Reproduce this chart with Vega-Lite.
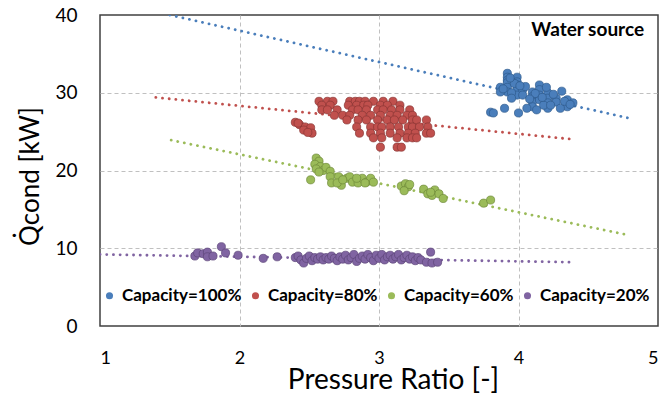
{
  "$schema": "https://vega.github.io/schema/vega-lite/v6.json",
  "width": 558,
  "height": 311,
  "autosize": {"type": "none"},
  "padding": {"left": 100, "top": 15, "right": 6, "bottom": 69},
  "background": "white",
  "config": {
    "font": "Lato",
    "view": {"stroke": "#404040", "strokeWidth": 1.5}
  },
  "datasets": {
    "trend": [
      {"c": "Capacity=100%", "pr": 1.5, "q": 40.0},
      {"c": "Capacity=100%", "pr": 4.8, "q": 26.7},
      {"c": "Capacity=80%", "pr": 1.4, "q": 29.4},
      {"c": "Capacity=80%", "pr": 4.37, "q": 24.05},
      {"c": "Capacity=60%", "pr": 1.51, "q": 23.9},
      {"c": "Capacity=60%", "pr": 4.76, "q": 11.8},
      {"c": "Capacity=20%", "pr": 1.0, "q": 9.2},
      {"c": "Capacity=20%", "pr": 4.4, "q": 8.2}
    ],
    "obs": [
      {"c": "Capacity=100%", "pr": 3.92, "q": 32.5}, {"c": "Capacity=100%", "pr": 3.92, "q": 32.0},
      {"c": "Capacity=100%", "pr": 3.92, "q": 31.6}, {"c": "Capacity=100%", "pr": 3.92, "q": 31.3},
      {"c": "Capacity=100%", "pr": 3.92, "q": 30.7}, {"c": "Capacity=100%", "pr": 3.92, "q": 30.1},
      {"c": "Capacity=100%", "pr": 3.87, "q": 30.7}, {"c": "Capacity=100%", "pr": 3.87, "q": 30.1},
      {"c": "Capacity=100%", "pr": 3.99, "q": 32.0}, {"c": "Capacity=100%", "pr": 3.99, "q": 31.4},
      {"c": "Capacity=100%", "pr": 3.99, "q": 31.0}, {"c": "Capacity=100%", "pr": 3.99, "q": 30.4},
      {"c": "Capacity=100%", "pr": 3.99, "q": 29.7}, {"c": "Capacity=100%", "pr": 3.95, "q": 30.0},
      {"c": "Capacity=100%", "pr": 3.95, "q": 29.3}, {"c": "Capacity=100%", "pr": 4.03, "q": 30.4},
      {"c": "Capacity=100%", "pr": 4.03, "q": 29.7}, {"c": "Capacity=100%", "pr": 4.10, "q": 30.1},
      {"c": "Capacity=100%", "pr": 4.10, "q": 29.5}, {"c": "Capacity=100%", "pr": 4.10, "q": 28.8},
      {"c": "Capacity=100%", "pr": 4.10, "q": 28.2}, {"c": "Capacity=100%", "pr": 4.15, "q": 31.0},
      {"c": "Capacity=100%", "pr": 4.15, "q": 30.4}, {"c": "Capacity=100%", "pr": 4.15, "q": 29.7},
      {"c": "Capacity=100%", "pr": 4.15, "q": 29.1}, {"c": "Capacity=100%", "pr": 4.21, "q": 30.0},
      {"c": "Capacity=100%", "pr": 4.21, "q": 29.3}, {"c": "Capacity=100%", "pr": 4.21, "q": 28.7},
      {"c": "Capacity=100%", "pr": 4.21, "q": 28.0}, {"c": "Capacity=100%", "pr": 4.27, "q": 29.3},
      {"c": "Capacity=100%", "pr": 4.27, "q": 28.8}, {"c": "Capacity=100%", "pr": 4.31, "q": 30.2},
      {"c": "Capacity=100%", "pr": 4.35, "q": 29.1}, {"c": "Capacity=100%", "pr": 4.35, "q": 28.2},
      {"c": "Capacity=100%", "pr": 4.39, "q": 28.7}, {"c": "Capacity=100%", "pr": 4.18, "q": 28.4},
      {"c": "Capacity=100%", "pr": 4.13, "q": 27.8}, {"c": "Capacity=100%", "pr": 4.06, "q": 28.0},
      {"c": "Capacity=100%", "pr": 4.00, "q": 27.4}, {"c": "Capacity=100%", "pr": 3.90, "q": 28.0},
      {"c": "Capacity=100%", "pr": 3.80, "q": 27.5}, {"c": "Capacity=100%", "pr": 3.82, "q": 27.4},
      {"c": "Capacity=100%", "pr": 4.20, "q": 30.7}, {"c": "Capacity=100%", "pr": 4.30, "q": 28.0},
      {"c": "Capacity=100%", "pr": 4.05, "q": 30.8}, {"c": "Capacity=100%", "pr": 4.12, "q": 29.9},
      {"c": "Capacity=100%", "pr": 4.25, "q": 29.8}, {"c": "Capacity=100%", "pr": 4.33, "q": 28.9},
      {"c": "Capacity=100%", "pr": 4.08, "q": 29.2}, {"c": "Capacity=100%", "pr": 3.97, "q": 31.2},
      {"c": "Capacity=100%", "pr": 3.94, "q": 31.9}, {"c": "Capacity=100%", "pr": 3.89, "q": 30.5},
      {"c": "Capacity=100%", "pr": 4.01, "q": 30.9}, {"c": "Capacity=100%", "pr": 4.17, "q": 29.4},
      {"c": "Capacity=100%", "pr": 4.37, "q": 28.5}, {"c": "Capacity=100%", "pr": 4.23, "q": 28.4},

      {"c": "Capacity=80%", "pr": 2.40, "q": 26.2}, {"c": "Capacity=80%", "pr": 2.43, "q": 25.9},
      {"c": "Capacity=80%", "pr": 2.47, "q": 25.6}, {"c": "Capacity=80%", "pr": 2.51, "q": 25.5},
      {"c": "Capacity=80%", "pr": 2.52, "q": 24.8}, {"c": "Capacity=80%", "pr": 2.46, "q": 25.2},
      {"c": "Capacity=80%", "pr": 2.49, "q": 24.9}, {"c": "Capacity=80%", "pr": 2.42, "q": 26.1},
      {"c": "Capacity=80%", "pr": 2.57, "q": 28.9}, {"c": "Capacity=80%", "pr": 2.63, "q": 28.9},
      {"c": "Capacity=80%", "pr": 2.67, "q": 28.9}, {"c": "Capacity=80%", "pr": 2.79, "q": 28.9},
      {"c": "Capacity=80%", "pr": 2.83, "q": 28.9}, {"c": "Capacity=80%", "pr": 2.86, "q": 28.9},
      {"c": "Capacity=80%", "pr": 2.90, "q": 28.9}, {"c": "Capacity=80%", "pr": 2.96, "q": 28.9},
      {"c": "Capacity=80%", "pr": 3.03, "q": 28.9}, {"c": "Capacity=80%", "pr": 3.10, "q": 28.9},
      {"c": "Capacity=80%", "pr": 2.59, "q": 28.4}, {"c": "Capacity=80%", "pr": 2.65, "q": 28.4},
      {"c": "Capacity=80%", "pr": 2.78, "q": 28.4}, {"c": "Capacity=80%", "pr": 2.84, "q": 28.4},
      {"c": "Capacity=80%", "pr": 2.89, "q": 28.4}, {"c": "Capacity=80%", "pr": 2.92, "q": 28.4},
      {"c": "Capacity=80%", "pr": 3.01, "q": 28.4}, {"c": "Capacity=80%", "pr": 3.06, "q": 28.4},
      {"c": "Capacity=80%", "pr": 3.15, "q": 28.4}, {"c": "Capacity=80%", "pr": 2.59, "q": 27.8},
      {"c": "Capacity=80%", "pr": 2.63, "q": 27.8}, {"c": "Capacity=80%", "pr": 2.70, "q": 27.8},
      {"c": "Capacity=80%", "pr": 2.81, "q": 27.8}, {"c": "Capacity=80%", "pr": 2.85, "q": 27.8},
      {"c": "Capacity=80%", "pr": 2.91, "q": 27.8}, {"c": "Capacity=80%", "pr": 2.99, "q": 27.8},
      {"c": "Capacity=80%", "pr": 3.03, "q": 27.8}, {"c": "Capacity=80%", "pr": 3.09, "q": 27.8},
      {"c": "Capacity=80%", "pr": 3.15, "q": 27.8}, {"c": "Capacity=80%", "pr": 3.22, "q": 27.8},
      {"c": "Capacity=80%", "pr": 2.68, "q": 27.1}, {"c": "Capacity=80%", "pr": 2.74, "q": 27.1},
      {"c": "Capacity=80%", "pr": 2.79, "q": 27.1}, {"c": "Capacity=80%", "pr": 2.88, "q": 27.1},
      {"c": "Capacity=80%", "pr": 2.94, "q": 27.1}, {"c": "Capacity=80%", "pr": 3.01, "q": 27.1},
      {"c": "Capacity=80%", "pr": 3.08, "q": 27.1}, {"c": "Capacity=80%", "pr": 3.13, "q": 27.1},
      {"c": "Capacity=80%", "pr": 3.20, "q": 27.1}, {"c": "Capacity=80%", "pr": 3.24, "q": 27.1},
      {"c": "Capacity=80%", "pr": 2.77, "q": 26.5}, {"c": "Capacity=80%", "pr": 2.85, "q": 26.5},
      {"c": "Capacity=80%", "pr": 2.91, "q": 26.5}, {"c": "Capacity=80%", "pr": 2.99, "q": 26.5},
      {"c": "Capacity=80%", "pr": 3.06, "q": 26.5}, {"c": "Capacity=80%", "pr": 3.11, "q": 26.5},
      {"c": "Capacity=80%", "pr": 3.17, "q": 26.5}, {"c": "Capacity=80%", "pr": 3.24, "q": 26.5},
      {"c": "Capacity=80%", "pr": 3.27, "q": 26.5}, {"c": "Capacity=80%", "pr": 3.34, "q": 26.5},
      {"c": "Capacity=80%", "pr": 2.84, "q": 25.6}, {"c": "Capacity=80%", "pr": 2.94, "q": 25.6},
      {"c": "Capacity=80%", "pr": 2.99, "q": 25.6}, {"c": "Capacity=80%", "pr": 3.02, "q": 25.6},
      {"c": "Capacity=80%", "pr": 3.08, "q": 25.6}, {"c": "Capacity=80%", "pr": 3.14, "q": 25.6},
      {"c": "Capacity=80%", "pr": 3.21, "q": 25.6}, {"c": "Capacity=80%", "pr": 3.24, "q": 25.6},
      {"c": "Capacity=80%", "pr": 3.29, "q": 25.6}, {"c": "Capacity=80%", "pr": 3.35, "q": 25.6},
      {"c": "Capacity=80%", "pr": 2.86, "q": 24.8}, {"c": "Capacity=80%", "pr": 2.94, "q": 24.8},
      {"c": "Capacity=80%", "pr": 3.01, "q": 24.8}, {"c": "Capacity=80%", "pr": 3.08, "q": 24.8},
      {"c": "Capacity=80%", "pr": 3.15, "q": 24.8}, {"c": "Capacity=80%", "pr": 3.21, "q": 24.8},
      {"c": "Capacity=80%", "pr": 3.26, "q": 24.8}, {"c": "Capacity=80%", "pr": 3.34, "q": 24.8},
      {"c": "Capacity=80%", "pr": 3.37, "q": 24.8}, {"c": "Capacity=80%", "pr": 2.96, "q": 24.2},
      {"c": "Capacity=80%", "pr": 3.02, "q": 24.2}, {"c": "Capacity=80%", "pr": 3.13, "q": 24.2},
      {"c": "Capacity=80%", "pr": 3.20, "q": 24.2}, {"c": "Capacity=80%", "pr": 3.24, "q": 24.2},
      {"c": "Capacity=80%", "pr": 3.27, "q": 24.2}, {"c": "Capacity=80%", "pr": 3.01, "q": 23.0},
      {"c": "Capacity=80%", "pr": 3.13, "q": 23.0}, {"c": "Capacity=80%", "pr": 3.16, "q": 23.0},

      {"c": "Capacity=60%", "pr": 2.55, "q": 21.6}, {"c": "Capacity=60%", "pr": 2.57, "q": 21.2},
      {"c": "Capacity=60%", "pr": 2.54, "q": 20.8}, {"c": "Capacity=60%", "pr": 2.58, "q": 20.5},
      {"c": "Capacity=60%", "pr": 2.55, "q": 20.2}, {"c": "Capacity=60%", "pr": 2.60, "q": 20.0},
      {"c": "Capacity=60%", "pr": 2.57, "q": 19.8}, {"c": "Capacity=60%", "pr": 2.62, "q": 20.4},
      {"c": "Capacity=60%", "pr": 2.65, "q": 19.9}, {"c": "Capacity=60%", "pr": 2.51, "q": 18.8},
      {"c": "Capacity=60%", "pr": 2.65, "q": 19.2}, {"c": "Capacity=60%", "pr": 2.66, "q": 18.4},
      {"c": "Capacity=60%", "pr": 2.71, "q": 19.2}, {"c": "Capacity=60%", "pr": 2.73, "q": 18.1},
      {"c": "Capacity=60%", "pr": 2.77, "q": 19.0}, {"c": "Capacity=60%", "pr": 2.79, "q": 19.2},
      {"c": "Capacity=60%", "pr": 2.81, "q": 18.5}, {"c": "Capacity=60%", "pr": 2.85, "q": 18.4},
      {"c": "Capacity=60%", "pr": 2.88, "q": 19.0}, {"c": "Capacity=60%", "pr": 2.91, "q": 18.5},
      {"c": "Capacity=60%", "pr": 2.94, "q": 19.0}, {"c": "Capacity=60%", "pr": 2.96, "q": 18.5},
      {"c": "Capacity=60%", "pr": 2.70, "q": 18.4}, {"c": "Capacity=60%", "pr": 2.74, "q": 18.8},
      {"c": "Capacity=60%", "pr": 2.84, "q": 19.0}, {"c": "Capacity=60%", "pr": 2.90, "q": 18.4},
      {"c": "Capacity=60%", "pr": 3.16, "q": 18.0}, {"c": "Capacity=60%", "pr": 3.19, "q": 18.3},
      {"c": "Capacity=60%", "pr": 3.21, "q": 17.9}, {"c": "Capacity=60%", "pr": 3.18, "q": 17.4},
      {"c": "Capacity=60%", "pr": 3.22, "q": 18.2}, {"c": "Capacity=60%", "pr": 3.32, "q": 17.6},
      {"c": "Capacity=60%", "pr": 3.35, "q": 17.0}, {"c": "Capacity=60%", "pr": 3.38, "q": 16.8},
      {"c": "Capacity=60%", "pr": 3.40, "q": 17.5}, {"c": "Capacity=60%", "pr": 3.43, "q": 17.0},
      {"c": "Capacity=60%", "pr": 3.46, "q": 16.4}, {"c": "Capacity=60%", "pr": 3.37, "q": 17.2},
      {"c": "Capacity=60%", "pr": 3.75, "q": 15.8}, {"c": "Capacity=60%", "pr": 3.80, "q": 16.2},

      {"c": "Capacity=20%", "pr": 1.68, "q": 9.0}, {"c": "Capacity=20%", "pr": 1.70, "q": 9.4},
      {"c": "Capacity=20%", "pr": 1.74, "q": 9.3}, {"c": "Capacity=20%", "pr": 1.77, "q": 9.5},
      {"c": "Capacity=20%", "pr": 1.77, "q": 8.9}, {"c": "Capacity=20%", "pr": 1.81, "q": 9.0},
      {"c": "Capacity=20%", "pr": 1.87, "q": 10.2}, {"c": "Capacity=20%", "pr": 1.90, "q": 9.4},
      {"c": "Capacity=20%", "pr": 1.99, "q": 9.1}, {"c": "Capacity=20%", "pr": 2.17, "q": 8.7},
      {"c": "Capacity=20%", "pr": 2.27, "q": 8.9}, {"c": "Capacity=20%", "pr": 2.40, "q": 8.8},
      {"c": "Capacity=20%", "pr": 2.42, "q": 9.0}, {"c": "Capacity=20%", "pr": 2.44, "q": 8.5},
      {"c": "Capacity=20%", "pr": 2.46, "q": 8.1}, {"c": "Capacity=20%", "pr": 2.48, "q": 8.7},
      {"c": "Capacity=20%", "pr": 2.50, "q": 9.0}, {"c": "Capacity=20%", "pr": 2.52, "q": 8.4},
      {"c": "Capacity=20%", "pr": 2.54, "q": 8.8}, {"c": "Capacity=20%", "pr": 2.56, "q": 8.6},
      {"c": "Capacity=20%", "pr": 2.58, "q": 8.9}, {"c": "Capacity=20%", "pr": 2.60, "q": 8.5},
      {"c": "Capacity=20%", "pr": 2.62, "q": 8.8}, {"c": "Capacity=20%", "pr": 2.64, "q": 8.6},
      {"c": "Capacity=20%", "pr": 2.66, "q": 9.0}, {"c": "Capacity=20%", "pr": 2.68, "q": 8.7},
      {"c": "Capacity=20%", "pr": 2.70, "q": 8.4}, {"c": "Capacity=20%", "pr": 2.72, "q": 8.9},
      {"c": "Capacity=20%", "pr": 2.74, "q": 8.6}, {"c": "Capacity=20%", "pr": 2.76, "q": 9.1},
      {"c": "Capacity=20%", "pr": 2.78, "q": 8.5}, {"c": "Capacity=20%", "pr": 2.80, "q": 8.8},
      {"c": "Capacity=20%", "pr": 2.82, "q": 9.2}, {"c": "Capacity=20%", "pr": 2.84, "q": 8.3},
      {"c": "Capacity=20%", "pr": 2.86, "q": 8.7}, {"c": "Capacity=20%", "pr": 2.88, "q": 9.0},
      {"c": "Capacity=20%", "pr": 2.90, "q": 8.6}, {"c": "Capacity=20%", "pr": 2.92, "q": 9.2},
      {"c": "Capacity=20%", "pr": 2.94, "q": 8.8}, {"c": "Capacity=20%", "pr": 2.96, "q": 8.4},
      {"c": "Capacity=20%", "pr": 2.98, "q": 9.1}, {"c": "Capacity=20%", "pr": 3.00, "q": 8.7},
      {"c": "Capacity=20%", "pr": 3.02, "q": 9.2}, {"c": "Capacity=20%", "pr": 3.04, "q": 8.5},
      {"c": "Capacity=20%", "pr": 3.06, "q": 8.9}, {"c": "Capacity=20%", "pr": 3.08, "q": 9.1},
      {"c": "Capacity=20%", "pr": 3.10, "q": 8.6}, {"c": "Capacity=20%", "pr": 3.12, "q": 8.9},
      {"c": "Capacity=20%", "pr": 3.14, "q": 9.2}, {"c": "Capacity=20%", "pr": 3.16, "q": 8.5},
      {"c": "Capacity=20%", "pr": 3.18, "q": 8.8}, {"c": "Capacity=20%", "pr": 3.20, "q": 9.1},
      {"c": "Capacity=20%", "pr": 3.22, "q": 8.6}, {"c": "Capacity=20%", "pr": 3.24, "q": 8.9},
      {"c": "Capacity=20%", "pr": 3.26, "q": 8.4}, {"c": "Capacity=20%", "pr": 3.28, "q": 8.8},
      {"c": "Capacity=20%", "pr": 3.30, "q": 8.5}, {"c": "Capacity=20%", "pr": 3.37, "q": 9.5},
      {"c": "Capacity=20%", "pr": 3.34, "q": 8.2}, {"c": "Capacity=20%", "pr": 3.38, "q": 8.1},
      {"c": "Capacity=20%", "pr": 3.42, "q": 8.2}
    ],
    "note": [{"label": "Water source", "pr": 4.9, "q": 38.1}]
  },
  "layer": [
    {
      "data": {"name": "trend"},
      "mark": {"type": "line", "strokeDash": [0.1, 6.6], "strokeCap": "round", "strokeWidth": 2.8, "clip": true},
      "encoding": {
        "x": {
          "field": "pr", "type": "quantitative",
          "scale": {"domain": [1, 5], "nice": false, "zero": false},
          "axis": {
            "values": [1, 2, 3, 4, 5],
            "format": "d",
            "grid": true,
            "gridColor": "#c0c0c0",
            "gridDash": [4, 3],
            "gridOpacity": {"condition": {"test": "datum.value == 1 || datum.value == 5", "value": 0}, "value": 1},
            "domain": false,
            "ticks": false,
            "labelFontSize": 18,
            "labelColor": "#000000",
            "labelPadding": 23,
            "title": "Pressure Ratio [-]",
            "titleFontSize": 28,
            "titleFontWeight": "normal",
            "titleColor": "#000000",
            "titleX": 293,
            "titleY": 62,
            "titleBaseline": "alphabetic"
          }
        },
        "y": {
          "field": "q", "type": "quantitative",
          "scale": {"domain": [0, 40], "nice": false},
          "axis": {
            "values": [0, 10, 20, 30, 40],
            "grid": true,
            "gridColor": "#c0c0c0",
            "gridDash": [4, 3],
            "gridOpacity": {"condition": {"test": "datum.value == 0 || datum.value == 40", "value": 0}, "value": 1},
            "domain": false,
            "ticks": false,
            "labelFontSize": 19,
            "labelColor": "#000000",
            "labelPadding": 23,
            "title": "Q̇cond [kW]",
            "titleFontSize": 26,
            "titleFontWeight": "normal",
            "titleColor": "#000000",
            "titleX": -57,
            "titleY": 161,
            "titleBaseline": "bottom"
          }
        },
        "color": {
          "field": "c", "type": "nominal",
          "scale": {
            "domain": ["Capacity=100%", "Capacity=80%", "Capacity=60%", "Capacity=20%"],
            "range": ["#4a7ebb", "#c0504d", "#9bbb59", "#8064a2"]
          }
        },
        "detail": {"field": "c"}
      }
    },
    {
      "data": {"name": "obs"},
      "mark": {"type": "circle", "size": 66, "opacity": 1, "strokeWidth": 0.7},
      "encoding": {
        "x": {"field": "pr", "type": "quantitative"},
        "y": {"field": "q", "type": "quantitative"},
        "color": {
          "field": "c", "type": "nominal",
          "scale": {
            "domain": ["Capacity=100%", "Capacity=80%", "Capacity=60%", "Capacity=20%"],
            "range": ["#4a7ebb", "#c0504d", "#9bbb59", "#8064a2"]
          },
          "legend": {
            "orient": "none",
            "legendX": 1,
            "legendY": 272,
            "direction": "horizontal",
            "title": null,
            "padding": 0,
            "symbolType": "circle",
            "symbolSize": 50,
            "symbolStrokeWidth": 0,
            "symbolOpacity": 1,
            "labelFont": "Lato",
            "labelFontWeight": "bold",
            "labelFontSize": 17,
            "labelColor": "#000000",
            "labelOffset": 4,
            "columnPadding": 5,
            "labelLimit": 300
          }
        },
        "stroke": {
          "field": "c", "type": "nominal",
          "scale": {
            "domain": ["Capacity=100%", "Capacity=80%", "Capacity=60%", "Capacity=20%"],
            "range": ["#2e5a8c", "#8a3533", "#6e8a3a", "#5b4578"]
          },
          "legend": null
        }
      }
    },
    {
      "data": {"name": "note"},
      "mark": {"type": "text", "align": "right", "baseline": "middle", "fontWeight": "bold", "fontSize": 19, "color": "#000000"},
      "encoding": {
        "x": {"field": "pr", "type": "quantitative"},
        "y": {"field": "q", "type": "quantitative"},
        "text": {"field": "label"}
      }
    }
  ]
}
